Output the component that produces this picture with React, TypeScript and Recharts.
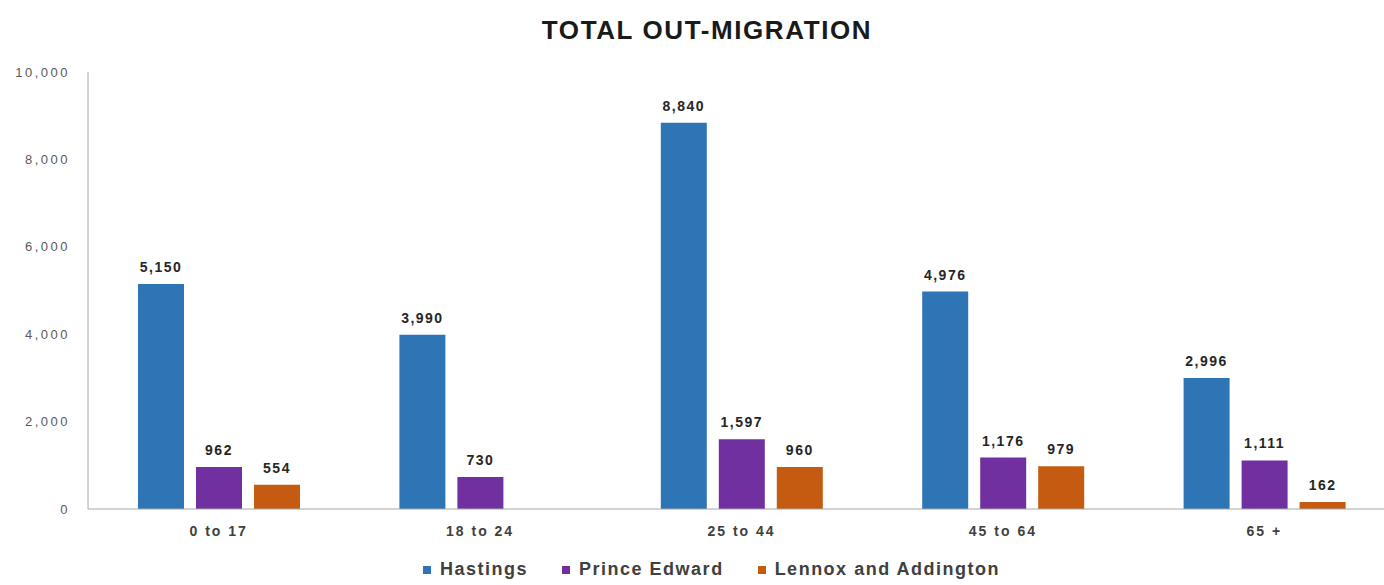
import { Bar, BarChart, LabelList, Legend, XAxis, YAxis } from "recharts";

const AGE_GROUPS = ["0 to 17", "18 to 24", "25 to 44", "45 to 64", "65 +"];
const HASTINGS = [5150, 3990, 8840, 4976, 2996];
const PRINCE_EDWARD = [962, 730, 1597, 1176, 1111];
const LENNOX = [554, null, 960, 979, 162];
const Y_TICKS = [0, 2000, 4000, 6000, 8000, 10000];

const SERIES = [
  { key: "hastings", name: "Hastings", color: "#2E75B6" },
  { key: "princeEdward", name: "Prince Edward", color: "#7030A0" },
  { key: "lennox", name: "Lennox and Addington", color: "#C55A11" },
];

const data = AGE_GROUPS.map((g, i) => ({
  group: g,
  hastings: HASTINGS[i],
  princeEdward: PRINCE_EDWARD[i],
  lennox: LENNOX[i],
}));

const FONT = "'Liberation Sans', Arial, sans-serif";
const fmt = (v: unknown) => (v == null ? "" : Number(v).toLocaleString("en-US"));

function LegendContent() {
  return (
    <div style={{ display: "flex", justifyContent: "center", gap: 34, fontFamily: FONT, marginTop: 12, marginLeft: 20 }}>
      {SERIES.map((s) => (
        <div key={s.key} style={{ display: "flex", alignItems: "center" }}>
          <span style={{ width: 8, height: 8, background: s.color, marginRight: 9, display: "inline-block" }} />
          <span style={{ fontSize: 18, fontWeight: 700, color: "#404040", letterSpacing: 1.5 }}>{s.name}</span>
        </div>
      ))}
    </div>
  );
}

export default function App() {
  return (
    <div style={{ position: "absolute", left: 0, top: 0, width: 1384, height: 585, overflow: "hidden", background: "#fff" }}>
      <div
        style={{
          position: "absolute",
          top: 15,
          left: 507,
          width: 400,
          textAlign: "center",
          fontFamily: FONT,
          fontWeight: 700,
          fontSize: 26,
          letterSpacing: 1.6,
          color: "#1a1a1a",
        }}
      >
        TOTAL OUT-MIGRATION
      </div>
      <BarChart
        width={1400}
        height={585}
        data={data}
        margin={{ top: 72, right: 5, bottom: 8, left: 8 }}
        barCategoryGap={50}
        barGap={12}
      >
        <XAxis
          dataKey="group"
          axisLine={{ stroke: "#a6a6a6" }}
          tickLine={false}
          height={38}
          tickMargin={11}
          tick={{ fontSize: 14, fontWeight: 700, fill: "#404040", fontFamily: FONT, letterSpacing: 2 }}
        />
        <YAxis
          width={80}
          domain={[0, 10000]}
          ticks={Y_TICKS}
          axisLine={{ stroke: "#a6a6a6" }}
          tickLine={false}
          tickMargin={12}
          tickFormatter={fmt}
          tick={{ fontSize: 13, fill: "#595959", fontFamily: FONT, letterSpacing: 2.5 }}
        />
        <Legend verticalAlign="bottom" height={30} content={<LegendContent />} />
        {SERIES.map((s) => (
          <Bar key={s.key} dataKey={s.key} name={s.name} fill={s.color} isAnimationActive={false}>
            <LabelList
              dataKey={s.key}
              position="top"
              offset={12}
              formatter={fmt}
              style={{ fontSize: 14, fontWeight: 700, fill: "#262626", fontFamily: FONT, letterSpacing: 1.5 }}
            />
          </Bar>
        ))}
      </BarChart>
    </div>
  );
}
